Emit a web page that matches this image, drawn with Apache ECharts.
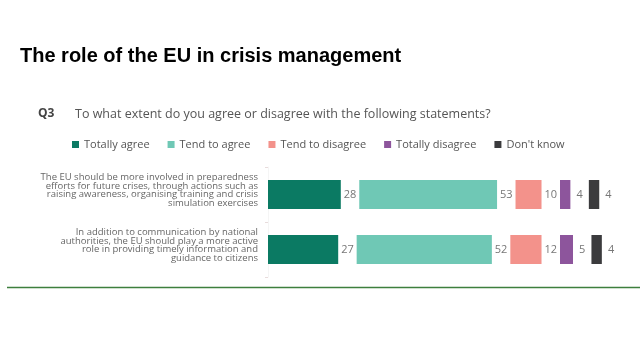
<!DOCTYPE html>
<html><head><meta charset="utf-8">
<script src="https://cdn.jsdelivr.net/npm/echarts@6/dist/echarts.min.js"></script>
<style>html,body{margin:0;padding:0;background:#fff}#c{width:640px;height:360px}</style>
</head><body><div id="c"></div>
<script>
const categories = [
  "The EU should be more involved in preparedness\nefforts for future crises, through actions such as\nraising awareness, organising training and crisis\nsimulation exercises",
  "In addition to communication by national\nauthorities, the EU should play a more active\nrole in providing timely information and\nguidance to citizens"
];
const seriesNames = ["Totally agree", "Tend to agree", "Tend to disagree", "Totally disagree", "Don't know"];
const totallyAgree = [28, 27];
const tendToAgree = [53, 52];
const tendToDisagree = [10, 12];
const totallyDisagree = [4, 5];
const dontKnow = [4, 4];
const values = [totallyAgree, tendToAgree, tendToDisagree, totallyDisagree, dontKnow];
const colors = ["#0b7a63", "#6fc8b5", "#f3928b", "#8d559c", "#3b3b3d"];
const gapUnits = 7.1;

const font = "'Open Sans', sans-serif";
const series = [];
values.forEach((vals, i) => {
  series.push({
    name: seriesNames[i], type: 'bar', stack: 'all', barWidth: 29,
    itemStyle: { color: colors[i] },
    data: vals
  });
  series.push({
    name: 'gap' + i, type: 'bar', stack: 'all', barWidth: 29, silent: true,
    itemStyle: { color: 'rgba(0,0,0,0)' },
    label: {
      show: true, position: 'inside', color: '#777', fontSize: 11, fontFamily: font,
      formatter: p => String(vals[p.dataIndex])
    },
    data: vals.map(() => gapUnits)
  });
});

const chart = echarts.init(document.getElementById('c'), null, { renderer: 'canvas' });
chart.setOption({
  animation: false,
  backgroundColor: '#fff',
  title: [
    { text: 'The role of the EU in crisis management', left: 20, top: 46, padding: 0,
      textStyle: { fontFamily: "'Liberation Sans', Arial, sans-serif", fontWeight: 'bold', fontSize: 20, color: '#000' } },
    { text: 'Q3', left: 38, top: 108, padding: 0,
      textStyle: { fontFamily: font, fontWeight: 'bold', fontSize: 12, color: '#444' } },
    { text: 'To what extent do you agree or disagree with the following statements?', left: 75, top: 108, padding: 0,
      textStyle: { fontFamily: font, fontWeight: 'normal', fontSize: 12.5, color: '#555' } }
  ],
  legend: {
    data: seriesNames, left: 72, top: 139, padding: 0, itemWidth: 7, itemHeight: 7, itemGap: 18, icon: 'rect',
    textStyle: { fontFamily: font, fontSize: 11, color: '#555' }
  },
  grid: { left: 268, top: 167, height: 110, right: 8 },
  xAxis: { type: 'value', min: 0, max: 140, show: false },
  yAxis: {
    type: 'category', inverse: true, data: categories,
    axisLine: { show: true, lineStyle: { color: '#f5f5f5' } },
    axisTick: { show: true, length: 3, lineStyle: { color: '#e8dcdc' } },
    axisLabel: { fontFamily: font, fontSize: 9.5, lineHeight: 8.6, color: '#666', margin: 10, align: 'right',
      formatter: v => v + '\n' }
  },
  graphic: [
    { type: 'line', shape: { x1: 7, y1: 287.5, x2: 640, y2: 287.5 }, style: { stroke: '#3d7f3d', lineWidth: 1.5 } }
  ],
  series: series
});
</script></body></html>
